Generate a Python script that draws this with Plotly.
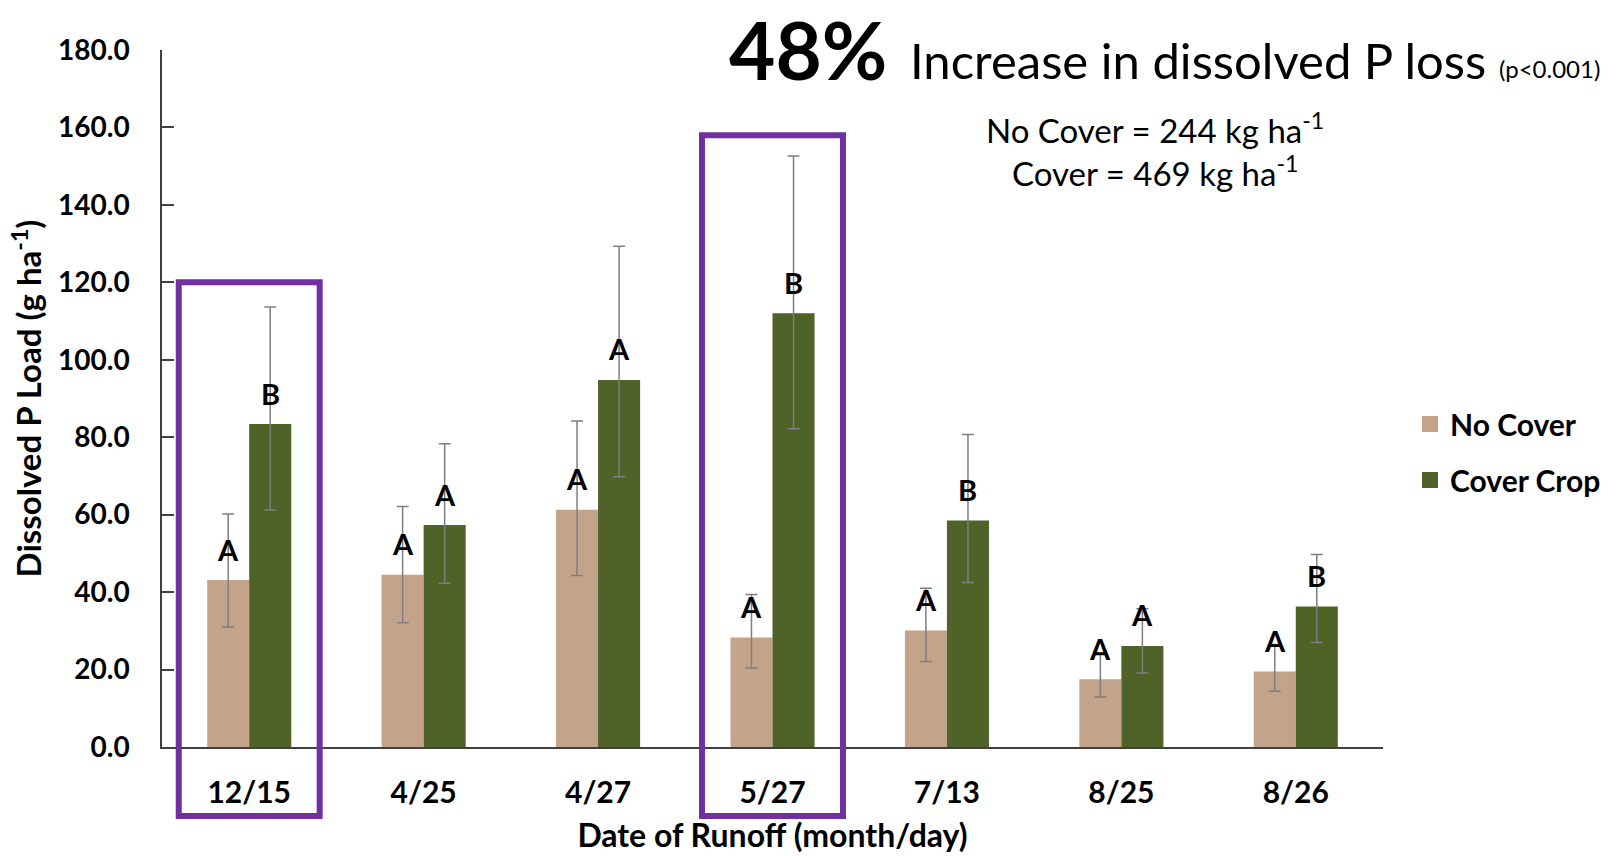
import plotly.graph_objects as go

# Runoff event dates (month/day)
dates = ["12/15", "4/25", "4/27", "5/27", "7/13", "8/25", "8/26"]

# Dissolved P load (g ha-1) with asymmetric error bars
no_cover = [43.1, 44.5, 61.3, 28.3, 30.1, 17.5, 19.5]
no_cover_err_plus = [17.1, 17.6, 22.9, 11.1, 10.9, 6.3, 7.0]
no_cover_err_minus = [12.1, 12.4, 17.0, 7.9, 8.0, 4.6, 5.1]

cover_crop = [83.4, 57.3, 94.8, 112.0, 58.5, 26.1, 36.3]
cover_crop_err_plus = [30.2, 21.0, 34.5, 40.6, 22.2, 9.6, 13.4]
cover_crop_err_minus = [22.2, 15.0, 25.0, 29.8, 16.0, 7.0, 9.3]

# Mean separation letters
no_cover_letters = ["A", "A", "A", "A", "A", "A", "A"]
cover_crop_letters = ["B", "A", "A", "B", "B", "A", "B"]

# Highlighted events: (date, top of highlight box in g ha-1)
highlights = [("12/15", 120.0), ("5/27", 158.0)]

y_ticks = [0, 20, 40, 60, 80, 100, 120, 140, 160, 180]

TAN = "#C3A48B"
OLIVE = "#4F6228"
PURPLE = "#7030A0"
ERR = "#7F7F7F"
AXIS = "#404040"
FONT = "Lato"

W, H = 1622, 856
ML, MR, MT, MB = 162, 239, 50, 109
plot_w = W - ML - MR
plot_h = H - MT - MB
Y_MAX = 180.0
BARGAP = 0.518
n_cat = len(dates)


def px_x(px):
    return (px - ML) / plot_w


def px_y(py):
    return (H - MB - py) / plot_h


fig = go.Figure()

fig.add_trace(go.Bar(
    x=dates, y=no_cover, name="No Cover", marker_color=TAN,
    marker_line_width=0, showlegend=False,
    error_y=dict(type="data", symmetric=False, array=no_cover_err_plus,
                 arrayminus=no_cover_err_minus, color=ERR,
                 thickness=1.5, width=6),
))
fig.add_trace(go.Bar(
    x=dates, y=cover_crop, name="Cover Crop", marker_color=OLIVE,
    marker_line_width=0, showlegend=False,
    error_y=dict(type="data", symmetric=False, array=cover_crop_err_plus,
                 arrayminus=cover_crop_err_minus, color=ERR,
                 thickness=1.5, width=6),
))

# legend entries with larger square swatches
for name, color in [("No Cover", TAN), ("Cover Crop", OLIVE)]:
    fig.add_trace(go.Scatter(
        x=[None], y=[None], mode="markers", name=name, legendgroup=name,
        marker=dict(symbol="square", size=16, color=color),
    ))

# letters above each bar
cat_px = plot_w / n_cat
bar_px = cat_px * (1 - BARGAP) / 2
annotations = []
for vals, letters, sign in [(no_cover, no_cover_letters, -1),
                            (cover_crop, cover_crop_letters, 1)]:
    for d, v, t in zip(dates, vals, letters):
        annotations.append(dict(
            x=d, y=v, xref="x", yref="y", text=t, showarrow=False,
            xshift=sign * bar_px / 2, yshift=31, yanchor="middle",
            font=dict(family=FONT, size=29, color="black", weight="bold"),
        ))

# headline text
annotations += [
    dict(x=px_x(889), y=px_y(49), xref="paper", yref="paper", text="48%",
         showarrow=False, xanchor="right", yanchor="middle",
         font=dict(family=FONT, size=80, color="black", weight="bold")),
    dict(x=px_x(908), y=px_y(60), xref="paper", yref="paper",
         text="Increase in dissolved P loss", showarrow=False,
         xanchor="left", yanchor="middle",
         font=dict(family=FONT, size=49, color="black")),
    dict(x=px_x(1497), y=px_y(69), xref="paper", yref="paper",
         text="(p<0.001)", showarrow=False, xanchor="left", yanchor="middle",
         font=dict(family=FONT, size=24, color="black")),
    dict(x=px_x(1155), y=px_y(128), xref="paper", yref="paper",
         text="No Cover = 244 kg ha<sup>-1</sup>", showarrow=False,
         xanchor="center", yanchor="middle",
         font=dict(family=FONT, size=33, color="black")),
    dict(x=px_x(1155), y=px_y(171), xref="paper", yref="paper",
         text="Cover = 469 kg ha<sup>-1</sup>", showarrow=False,
         xanchor="center", yanchor="middle",
         font=dict(family=FONT, size=33, color="black")),
]

# purple highlight boxes around selected events
shapes = []
box_bottom = px_y(816)
for d, top in highlights:
    i = dates.index(d)
    cx = (i + 0.5) / n_cat
    half = 0.404 / n_cat
    shapes.append(dict(
        type="rect", xref="paper", yref="paper",
        x0=cx - half, x1=cx + half, y0=box_bottom, y1=top / Y_MAX,
        line=dict(color=PURPLE, width=6), fillcolor="rgba(0,0,0,0)",
        layer="above",
    ))

fig.update_layout(
    width=W, height=H,
    margin=dict(l=ML, r=MR, t=MT, b=MB, autoexpand=False),
    paper_bgcolor="white", plot_bgcolor="white",
    barmode="group", bargap=BARGAP, bargroupgap=0,
    font=dict(family=FONT, color="black"),
    annotations=annotations, shapes=shapes,
    legend=dict(
        x=px_x(1410), y=px_y(452), xanchor="left", yanchor="middle",
        font=dict(family=FONT, size=30, color="black", weight="bold"),
        tracegroupgap=14, bgcolor="rgba(0,0,0,0)",
    ),
    xaxis=dict(
        type="category", showline=True, linecolor=AXIS, linewidth=1.5,
        ticks="", showgrid=False, zeroline=False,
        tickfont=dict(family=FONT, size=30, color="black", weight="bold"),
        ticklabelstandoff=18,
        title=dict(text="Date of Runoff (month/day)", standoff=17,
                   font=dict(family=FONT, size=32, color="black", weight="bold")),
    ),
    yaxis=dict(
        range=[0, Y_MAX], tickvals=y_ticks, tickformat=".1f",
        showline=True, linecolor=AXIS, linewidth=1.5,
        ticks="inside", ticklen=12, tickcolor=AXIS, tickwidth=1.5,
        showgrid=False, zeroline=False,
        tickfont=dict(family=FONT, size=28, color="black", weight="bold"),
        ticklabelstandoff=25,
        title=dict(text="Dissolved P Load (g ha<sup>-1</sup>)", standoff=6,
                   font=dict(family=FONT, size=33, color="black", weight="bold")),
    ),
)

fig.write_html("out.html")
